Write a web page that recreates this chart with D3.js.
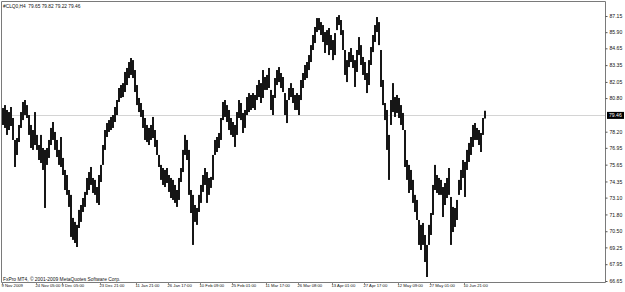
<!DOCTYPE html>
<html><head><meta charset="utf-8">
<script src="https://cdn.jsdelivr.net/npm/d3@7"></script>
<style>html,body{margin:0;padding:0;background:#fff;}svg{display:block;}</style>
</head><body>
<svg id="c" width="625" height="292"></svg>
<script>
const symbolTitle = "#CLQ0,H4  79.65 79.82 79.22 79.46";
const copyright = "FxPro MT4, © 2001-2009 MetaQuotes Software Corp.";
const bidPrice = 79.46;
const highs = [80.03,80.26,79.88,79.72,80.11,79.26,77.56,77.71,78.72,79.72,80.50,80.65,80.26,79.49,78.72,78.33,79.72,77.95,77.17,77.95,
76.94,76.79,76.94,77.56,78.49,78.95,78.18,77.56,76.79,77.79,76.17,75.24,74.85,73.69,73.31,71.53,71.22,70.99,72.15,72.53,
73.07,73.54,74.62,75.08,75.47,74.62,74.47,73.92,74.85,75.63,77.17,78.33,78.87,79.10,79.34,79.49,80.11,80.65,81.58,81.81,
81.96,82.82,83.13,83.59,83.90,83.74,82.97,81.81,80.81,80.42,79.88,79.26,78.72,78.49,78.72,79.34,78.33,77.56,76.40,75.63,
75.39,75.24,75.39,74.85,74.62,74.47,74.08,73.69,74.62,75.39,76.79,77.95,77.56,76.79,73.69,73.31,72.53,72.30,73.31,74.08,
74.85,75.39,75.08,74.62,74.70,76.40,77.56,77.79,78.10,79.26,80.50,80.65,80.26,79.88,79.26,78.95,78.72,79.72,80.65,80.42,
79.65,79.88,80.88,81.19,81.04,81.19,81.04,81.81,82.20,81.96,82.97,82.43,82.59,83.13,81.43,81.04,82.35,82.97,83.20,82.74,
82.43,81.19,80.65,81.58,81.96,81.58,81.04,81.19,81.04,82.20,82.74,83.36,83.59,84.13,84.90,85.68,86.30,86.99,86.99,86.68,
86.45,85.91,86.06,86.22,85.68,85.29,85.83,87.07,87.22,86.84,86.06,84.52,83.74,84.36,84.67,84.13,83.74,84.52,85.52,84.90,
83.98,83.59,82.74,83.74,84.75,85.68,86.45,87.07,86.68,84.52,82.20,80.42,79.88,77.95,80.65,81.96,80.88,81.04,80.81,80.26,
79.65,78.33,76.01,75.63,75.24,74.47,73.31,72.92,71.37,70.99,71.14,70.21,69.44,70.99,71.91,74.08,75.63,74.85,74.62,74.47,
73.92,74.23,74.62,75.39,73.15,72.38,72.30,72.92,74.47,75.24,76.01,75.86,76.79,77.33,77.79,78.72,78.87,78.49,78.33,78.10,
79.26,79.82];
const lows = [78.72,78.49,77.95,78.33,78.64,77.56,75.47,76.40,77.40,78.49,79.10,79.49,79.26,77.95,76.94,76.79,77.17,76.79,76.01,75.78,
75.24,72.30,75.63,76.17,77.17,77.56,76.79,76.24,75.63,75.47,74.85,73.69,73.31,72.38,70.06,69.83,69.59,69.28,70.75,71.22,
71.99,72.38,73.31,73.69,74.08,73.46,73.31,72.69,72.53,74.31,75.63,76.79,77.79,78.18,78.33,78.49,78.95,79.49,80.50,80.81,
80.88,81.27,81.81,82.35,82.59,82.35,81.27,80.26,79.72,79.34,78.49,77.56,77.40,77.17,77.56,77.71,77.02,76.40,75.47,74.47,
74.08,73.92,74.23,73.54,73.07,72.92,72.69,72.38,72.92,74.31,75.08,76.40,76.01,73.31,71.91,69.44,71.22,70.99,71.99,72.69,
73.54,74.08,72.69,73.31,73.85,74.47,76.40,76.63,76.94,77.56,79.10,79.34,78.95,78.33,77.95,77.79,77.02,77.95,79.26,79.10,
78.10,78.49,79.49,79.72,79.88,80.03,79.88,80.65,80.88,80.42,80.81,81.43,81.43,81.58,79.88,79.49,80.81,81.81,82.04,81.58,
81.27,79.49,78.87,80.65,80.88,80.42,79.88,79.88,79.49,80.65,81.58,82.20,82.35,82.97,83.59,84.52,85.06,85.91,86.06,85.68,
85.14,84.29,84.90,84.13,84.52,83.74,84.13,86.06,86.45,85.68,84.52,82.59,82.04,83.20,83.59,83.13,81.66,82.82,84.13,83.36,
82.59,82.20,81.19,81.81,83.36,84.36,85.14,85.91,84.90,81.66,80.26,79.10,76.79,74.47,78.72,79.72,79.34,79.65,79.26,78.72,
78.33,75.47,74.47,73.46,73.69,72.69,71.99,71.37,69.44,69.05,69.44,68.12,66.96,69.44,70.21,71.76,73.69,73.46,73.31,73.31,
71.60,72.53,73.07,73.31,69.44,70.44,70.83,71.37,73.31,73.69,74.62,73.15,75.24,75.86,76.40,77.02,77.56,77.56,77.17,76.63,
77.95,79.22];
const priceTicks = [87.15,85.90,84.65,83.35,82.05,80.80,78.20,76.95,75.65,74.35,73.10,71.80,70.50,69.25,67.95,66.65];
const timeTickIndex = [0,17,30,49,67,83,99,115,132,148,165,181,198,214,231];
const timeTickLabels = ["9 Nov 2009","24 Nov 05:00","9 Dec 05:00","23 Dec 21:00","11 Jan 21:00","26 Jan 17:00","10 Feb 09:00","25 Feb 01:00","11 Mar 17:00","26 Mar 08:00","13 Apr 01:00","27 Apr 17:00","12 May 09:00","27 May 01:00","10 Jun 21:00"];

(function () {
const svg = d3.select("#c");
const F = "'Liberation Sans', Arial, sans-serif";
const pLeft = 1, pRight = 605, pTop = 1, pBottom = 282;
const N = highs.length;
const x = d3.scaleLinear().domain([0, N]).range([2, 2 + 2 * N]);
const y = d3.scaleLinear().domain([66.65, 87.15]).range([281, 16]);

// bid line
const bl = Math.round(y(bidPrice)) + 0.5;
svg.append("line").attr("x1", pLeft + 1).attr("x2", pRight).attr("y1", bl).attr("y2", bl)
  .attr("stroke", "#d4d4d4").attr("stroke-width", 1);

// bars
const bars = d3.range(N).map(i => ({i, h: highs[i], l: lows[i]}));
svg.append("g").selectAll("rect").data(bars).join("rect")
  .attr("x", d => x(d.i)).attr("width", x(1) - x(0))
  .attr("y", d => y(d.h)).attr("height", d => Math.max(1, y(d.l) - y(d.h)))
  .attr("fill", "#161616");

// frame
svg.append("path").attr("d", `M${pLeft + 0.5},${pTop + 0.5}H${pRight + 0.5}V${pBottom + 0.5}H${pLeft + 0.5}Z`)
  .attr("fill", "none").attr("stroke", "#7a7a7a").attr("stroke-width", 1);

// right price axis
const yAxis = d3.axisRight(y).tickValues(priceTicks).tickSize(2).tickPadding(2).tickFormat(d3.format(".2f"));
const ga = svg.append("g").attr("transform", `translate(${pRight + 0.5},0)`).call(yAxis);
ga.select(".domain").remove();
ga.selectAll("line").attr("stroke", "#555");
ga.selectAll("text").attr("font-family", F).attr("font-size", 5.1).attr("fill", "#111");

// bid label
const by = y(bidPrice);
svg.append("rect").attr("x", 607).attr("y", by - 3.5).attr("width", 17).attr("height", 7).attr("fill", "#000");
svg.append("text").attr("x", 609).attr("y", by + 1.8).attr("font-family", F).attr("font-size", 5.1).attr("fill", "#fff").text(bidPrice.toFixed(2));

// time axis
const xAxis = d3.axisBottom(x).tickValues(timeTickIndex).tickSize(2).tickPadding(0.5)
  .tickFormat((d, k) => timeTickLabels[k]);
const gx = svg.append("g").attr("transform", `translate(0,${pBottom + 0.5})`).call(xAxis);
gx.select(".domain").remove();
gx.selectAll("line").attr("stroke", "#888");
gx.selectAll("text").attr("font-family", F).attr("font-size", 4.2).attr("fill", "#111")
  .attr("text-anchor", "start").attr("dx", -1).attr("dy", "0.5em");

// titles
svg.append("text").attr("x", 3).attr("y", 8).attr("font-family", F).attr("font-size", 4.8).attr("fill", "#111")
  .style("white-space", "pre").text(symbolTitle);
svg.append("text").attr("x", 3).attr("y", 280.5).attr("font-family", F).attr("font-size", 4.9).attr("fill", "#111").text(copyright);
})();
</script>
</body></html>
